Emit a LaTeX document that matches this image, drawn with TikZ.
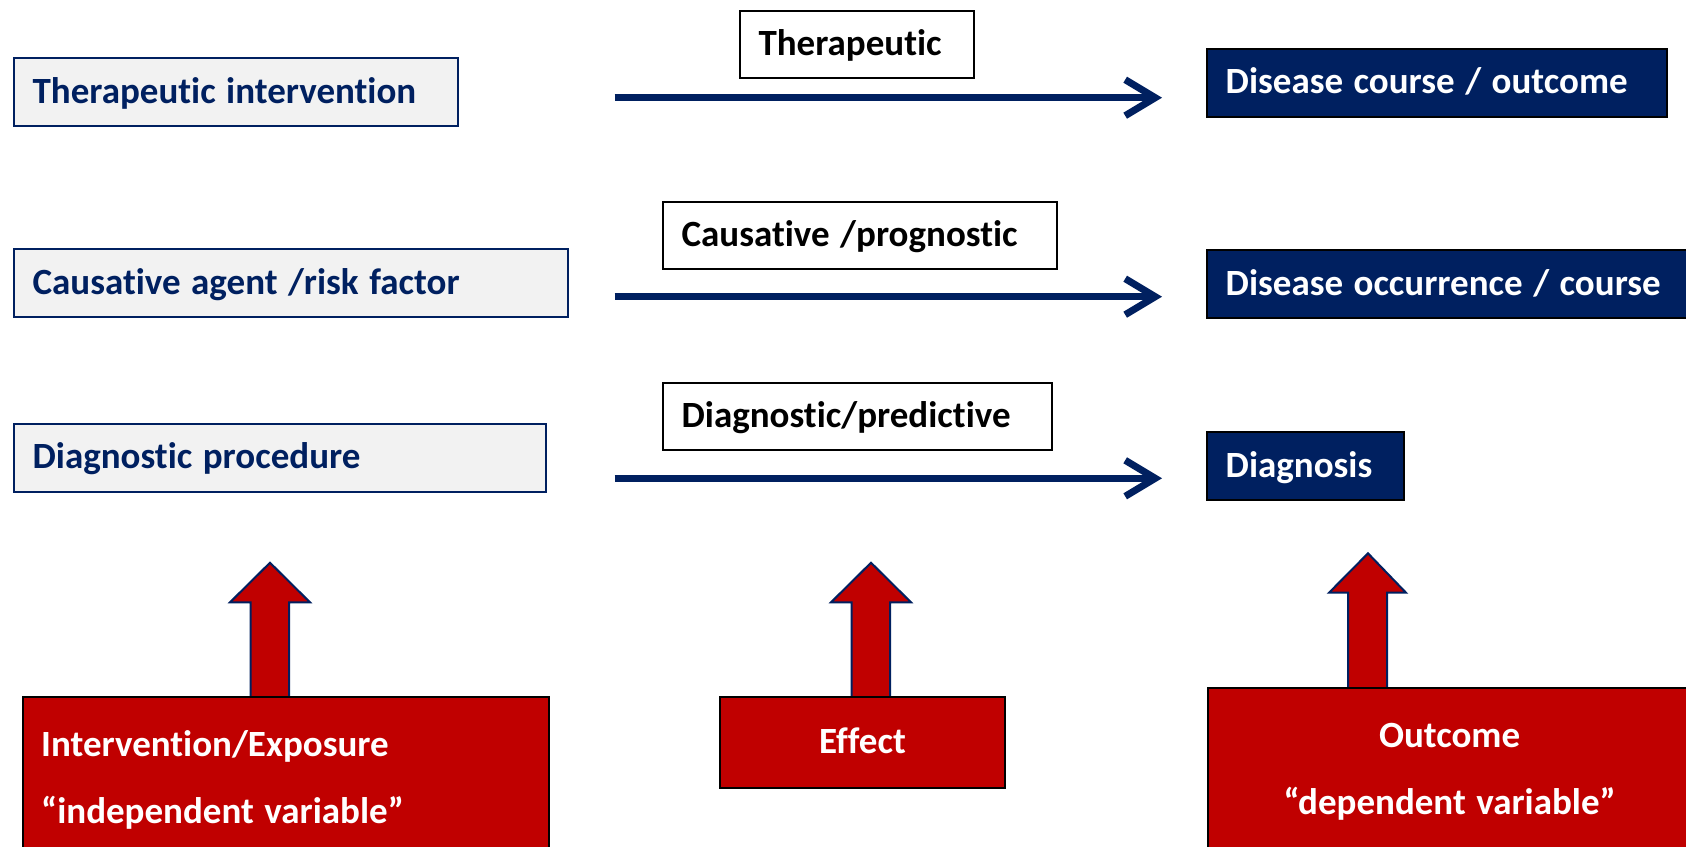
\documentclass[tikz,border=0pt]{standalone}
\usepackage{fontspec}
\setmainfont{Carlito}[Ligatures={NoCommon}]
\usetikzlibrary{arrows.meta}
\definecolor{navy}{HTML}{002060}
\definecolor{lgray}{HTML}{F2F2F2}
\definecolor{dred}{HTML}{C00000}
\newcommand{\diagfont}{\fontsize{37}{44}\selectfont\bfseries}
\newcommand{\tightspace}{\spaceskip=10.5pt plus 1pt minus 1pt\relax}
\begin{document}
\begin{tikzpicture}[x=1pt,y=-1pt,
  every node/.style={font=\diagfont, inner sep=0pt, execute at begin node=\tightspace},
  box/.style={anchor=north west, draw, line width=2pt, inner xsep=19pt, text height=29pt, text depth=7pt, align=left, minimum height=68pt},
  leftbox/.style={box, fill=lgray, draw=navy, text=navy},
  midbox/.style={box, fill=white, draw=black, text=black},
  rightbox/.style={box, fill=navy, draw=black, text=white},
  redbox/.style={anchor=north west, draw=black, line width=2pt, fill=dred, text=white},
  redtxt/.style={text=white},
  flow/.style={draw=navy, line width=7pt, -{Straight Barb[length=30pt, width=36pt]}},
  uparrow/.style={fill=dred, draw=navy, line width=2pt, line join=miter}
]
\useasboundingbox (0,0) rectangle (1686,846);
\clip (0,0) rectangle (1686,846);
\fill[white] (0,0) rectangle (1686,846);

% left boxes
\node[leftbox, minimum width=444pt, text width=406pt] (l1) at (12.6,57.3) {Therapeutic intervention};
\node[leftbox, minimum width=554pt, text width=516pt] (l2) at (12.6,248.3) {Causative agent /risk factor};
\node[leftbox, minimum width=532pt, text width=494pt] (l3) at (12.6,422.7) {Diagnostic procedure};

% middle label boxes
\node[midbox, minimum width=234pt, text width=196pt, minimum height=67pt] (m1) at (738.5,10) {Therapeutic};
\node[midbox, minimum width=394pt, text width=356pt, minimum height=67pt] (m2) at (661.6,200.7) {Causative /prognostic};
\node[midbox, minimum width=389pt, text width=351pt, minimum height=67pt] (m3) at (661.6,381.7) {Diagnostic/predictive};

% right boxes
\node[rightbox, minimum width=460pt, text width=422pt] (r1) at (1205.7,47.7) {Disease course / outcome};
\node[rightbox, minimum width=520pt, text width=482pt] (r2) at (1205.7,249) {Disease occurrence / course};
\node[rightbox, minimum width=197pt, text width=159pt] (r3) at (1205.7,431) {Diagnosis};

% horizontal arrows
\coordinate (s1) at (614.5,97.7);  \coordinate (e1) at (1162,97.7);
\coordinate (s2) at (614.5,296.7); \coordinate (e2) at (1162,296.7);
\coordinate (s3) at (614.5,478.3); \coordinate (e3) at (1162,478.3);
\draw[flow] (s1) -- (e1);
\draw[flow] (s2) -- (e2);
\draw[flow] (s3) -- (e3);

% up block arrows
\filldraw[uparrow] (250.5,697) -- (250.5,602.3) -- (230,602.3) -- (270,562.7) -- (310,602.3) -- (289,602.3) -- (289,697) -- cycle;
\filldraw[uparrow] (851.6,697) -- (851.6,602.3) -- (831,602.3) -- (871,562.7) -- (911,602.3) -- (890,602.3) -- (890,697) -- cycle;
\filldraw[uparrow] (1348,688) -- (1348,592.7) -- (1329,592.7) -- (1368,553.3) -- (1406,592.7) -- (1387,592.7) -- (1387,688) -- cycle;

% bottom red boxes
\node[redbox, minimum width=526.5pt, minimum height=200pt] (b1) at (21.5,695.7) {};
\node[redbox, minimum width=285pt, minimum height=91pt, text height=29pt, text depth=7pt] (b2) at (719,695.7) {Effect};
\node[redbox, minimum width=486pt, minimum height=200pt] (b3) at (1206.5,686.7) {};

\node[redtxt, anchor=base west] (t1a) at (41,756.7) {Intervention/Exposure};
\node[redtxt, anchor=base west] (t1b) at (41,823) {“independent variable”};
\node[redtxt, anchor=base] (t3a) at (1449.6,747.3) {Outcome};
\node[redtxt, anchor=base] (t3b) at (1449.6,814) {“dependent variable”};
\end{tikzpicture}
\end{document}
